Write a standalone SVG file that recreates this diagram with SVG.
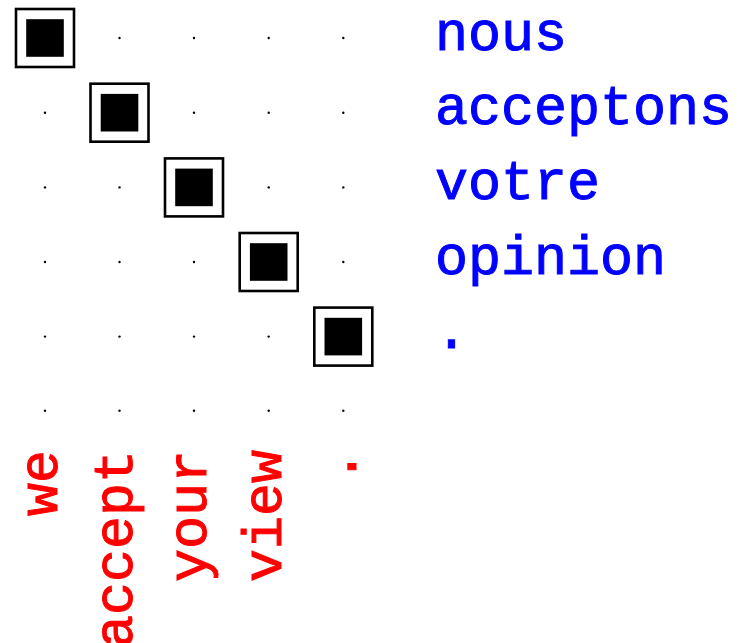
<svg xmlns="http://www.w3.org/2000/svg" width="750" height="643" viewBox="0 0 750 643">
<style>
.dot{fill:#000}
.outer{fill:none;stroke:#000;stroke-width:2.6}
.inner{fill:#000}
.tgt{font-family:"Liberation Mono",monospace;font-size:55px;fill:#0000ff;stroke:#0000ff;stroke-width:1}
.src{font-family:"Liberation Mono",monospace;font-size:55px;fill:#ff0000;stroke:#ff0000;stroke-width:1}
</style>
<rect width="750" height="643" fill="#fff"/>
<g id="grid-dots">
<circle class="dot" cx="119.5" cy="38" r="1.2"/><circle class="dot" cx="194" cy="38" r="1.2"/><circle class="dot" cx="268.7" cy="38" r="1.2"/><circle class="dot" cx="343.3" cy="38" r="1.2"/>
<circle class="dot" cx="45" cy="112.7" r="1.2"/><circle class="dot" cx="194" cy="112.7" r="1.2"/><circle class="dot" cx="268.7" cy="112.7" r="1.2"/><circle class="dot" cx="343.3" cy="112.7" r="1.2"/>
<circle class="dot" cx="45" cy="187.4" r="1.2"/><circle class="dot" cx="119.5" cy="187.4" r="1.2"/><circle class="dot" cx="268.7" cy="187.4" r="1.2"/><circle class="dot" cx="343.3" cy="187.4" r="1.2"/>
<circle class="dot" cx="45" cy="262" r="1.2"/><circle class="dot" cx="119.5" cy="262" r="1.2"/><circle class="dot" cx="194" cy="262" r="1.2"/><circle class="dot" cx="343.3" cy="262" r="1.2"/>
<circle class="dot" cx="45" cy="336.6" r="1.2"/><circle class="dot" cx="119.5" cy="336.6" r="1.2"/><circle class="dot" cx="194" cy="336.6" r="1.2"/><circle class="dot" cx="268.7" cy="336.6" r="1.2"/>
<circle class="dot" cx="45" cy="410.7" r="1.2"/><circle class="dot" cx="119.5" cy="410.7" r="1.2"/><circle class="dot" cx="194" cy="410.7" r="1.2"/><circle class="dot" cx="268.7" cy="410.7" r="1.2"/><circle class="dot" cx="343.3" cy="410.7" r="1.2"/>
</g>
<g id="cell-1"><rect class="outer" x="16" y="9" width="58" height="58"/><rect class="inner" x="26.2" y="19.2" width="37.6" height="37.6"/></g>
<g id="cell-2"><rect class="outer" x="90.5" y="83.7" width="58" height="58"/><rect class="inner" x="100.7" y="93.9" width="37.6" height="37.6"/></g>
<g id="cell-3"><rect class="outer" x="165" y="158.4" width="58" height="58"/><rect class="inner" x="175.2" y="168.6" width="37.6" height="37.6"/></g>
<g id="cell-4"><rect class="outer" x="239.7" y="233" width="58" height="58"/><rect class="inner" x="249.9" y="243.2" width="37.6" height="37.6"/></g>
<g id="cell-5"><rect class="outer" x="314.3" y="307.6" width="58" height="58"/><rect class="inner" x="324.5" y="317.8" width="37.6" height="37.6"/></g>
<g id="target-words">
<text class="tgt" x="435" y="49.5">nous</text>
<text class="tgt" x="435" y="124.2">acceptons</text>
<text class="tgt" x="435" y="198.9">votre</text>
<text class="tgt" x="435" y="273.5">opinion</text>
<text class="tgt" x="435" y="348.1">.</text>
</g>
<g id="source-words">
<text class="src" text-anchor="end" transform="translate(57,450) rotate(-90)">we</text>
<text class="src" text-anchor="end" transform="translate(131.5,450) rotate(-90)">accept</text>
<text class="src" text-anchor="end" transform="translate(206,450) rotate(-90)">your</text>
<text class="src" text-anchor="end" transform="translate(280.7,450) rotate(-90)">view</text>
<text class="src" text-anchor="end" transform="translate(356,450) rotate(-90)">.</text>
</g>
</svg>
